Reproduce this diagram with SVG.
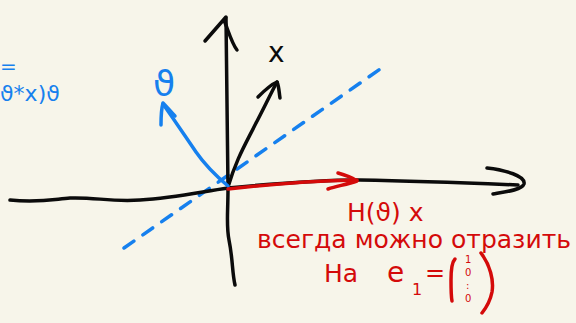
<svg xmlns="http://www.w3.org/2000/svg" width="576" height="323" viewBox="0 0 576 323">
<style>
.ink{fill:none;stroke-linecap:round;stroke-linejoin:round;stroke-width:3.5}
.k{stroke:#0b0b0b}
.b{stroke:#1680ee}
.r{stroke:#d40a0a}
.tb{fill:#1680ee;font-family:"DejaVu Sans","Noto Sans",sans-serif}
.tr{fill:#d40a0a;font-family:"DejaVu Sans","Noto Sans",sans-serif}
.tk{fill:#0b0b0b;font-family:"DejaVu Sans","Noto Sans",sans-serif}
</style>
<rect width="576" height="323" fill="#f7f5ea"/>
<g id="connectors">
  <path class="ink b" d="M124,248 L383,67" stroke-dasharray="12 11"/>
  <path id="x-axis" class="ink k" d="M10,200 C40,203 55,199 70,198 C95,197 110,202 140,200 C175,198 200,192 228,188 C280,183 320,180 360,180 C420,181 470,183 518,185"/>
  <path class="ink k" d="M487,168 C505,170 526,176 524,184 C522,190 505,192 493,194"/>
  <path id="y-axis" class="ink k" d="M226,18 C227,80 227,140 228,188 C228,215 226,225 229,240 C233,260 232,272 235,285"/>
  <path class="ink k" d="M205,41 L226,17 M224,20 C228,30 232,44 237,50"/>
  <path class="ink k" d="M228,187 C236,160 245,145 255,125 C263,110 270,95 277,82"/>
  <path class="ink k" d="M258,97 C265,90 272,84 277,82 C279,86 279,92 280,98"/>
  <path class="ink b" d="M228,186 C215,175 205,165 196,152 C185,136 173,118 163,104"/>
  <path class="ink b" d="M161,125 C161,117 161,110 163,103 C167,107 171,112 175,116"/>
  <path class="ink r" d="M228,189 C270,184 310,181 357,180"/>
  <path class="ink r" d="M338,173 C345,175 352,177 357,181 C348,184 338,186 328,189"/>
</g>
<g id="label-x"><text class="tk" x="268" y="62" font-size="28">x</text></g>
<g id="label-theta"><text class="tb" x="153" y="96" font-size="36">ϑ</text></g>
<g id="left-note">
  <text class="tb" x="0" y="73" font-size="20">=</text>
  <text class="tb" x="0" y="101" font-size="22">ϑ*x)ϑ</text>
</g>
<g id="label-hx"><text class="tr" x="347" y="221" font-size="25">H(ϑ) x</text></g>
<g id="note">
  <text class="tr" x="257" y="248" font-size="24" textLength="314" lengthAdjust="spacingAndGlyphs">всегда можно отразить</text>
  <text class="tr" x="324" y="282" font-size="25">На</text>
  <text class="tr" x="387" y="282" font-size="28">e</text>
  <text class="tr" x="412" y="295" font-size="16">1</text>
  <text class="tr" x="425" y="281" font-size="24">=</text>
  <path class="ink r" d="M455,259 C452,262 451,270 451,280 C451,290 451,296 452,301"/>
  <path class="ink r" d="M481,253 C490,265 494,280 492,292 C490,302 486,308 482,313"/>
  <text class="tr" x="465" y="263" font-size="10">1</text>
  <text class="tr" x="465" y="276" font-size="10">0</text>
  <text class="tr" x="466" y="289" font-size="10">:</text>
  <text class="tr" x="465" y="302" font-size="10">0</text>
</g>
</svg>
